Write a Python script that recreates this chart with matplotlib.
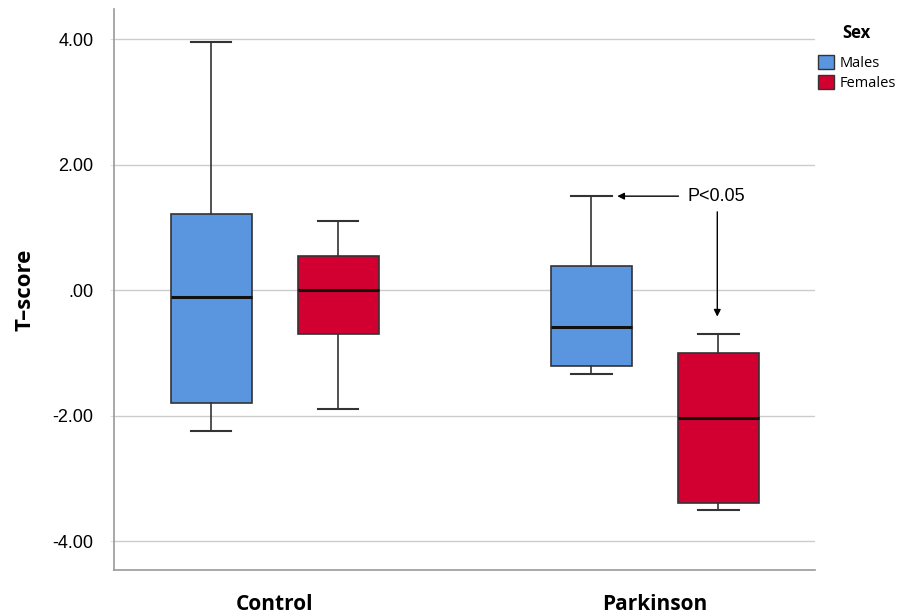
import matplotlib.pyplot as plt

groups = ['Control', 'Parkinson']
sexes = ['Males', 'Females']
colors = ['#5A96E0', '#D20030']

# five-number summaries per group, per sex: whislo, q1, med, q3, whishi
males_stats = [[-2.25, -1.80, -0.10, 1.21, 3.95],
               [-1.34, -1.21, -0.59, 0.38, 1.50]]
females_stats = [[-1.90, -0.70, 0.00, 0.54, 1.10],
                 [-3.51, -3.39, -2.04, -1.00, -0.69]]

yticks = [-4, -2, 0, 2, 4]
ytick_labels = ['-4.00', '-2.00', '.00', '2.00', '4.00']

fig = plt.figure(figsize=(9.06, 6.13), dpi=100)
ax = fig.add_axes([0.126, 0.070, 0.774, 0.915])

offset = 0.167
width = 0.213
for s, (stats_list, color) in enumerate(zip([males_stats, females_stats], colors)):
    stats = []
    for lo, q1, med, q3, hi in stats_list:
        stats.append(dict(whislo=lo, q1=q1, med=med, q3=q3, whishi=hi, fliers=[]))
    pos = [g + (offset if s else -offset) for g in range(len(groups))]
    ax.bxp(stats, positions=pos, widths=width, patch_artist=True, showfliers=False,
           boxprops=dict(facecolor=color, edgecolor='#333333', linewidth=1.2),
           medianprops=dict(color='#111111', linewidth=2.2),
           whiskerprops=dict(color='#333333', linewidth=1.2),
           capprops=dict(color='#333333', linewidth=1.5),
           capwidths=width * 0.5, zorder=3)

ax.set_xlim(-0.422, 1.422)
ax.set_ylim(-4.46, 4.48)
ax.set_yticks(yticks)
ax.set_yticklabels(ytick_labels, fontsize=13, family='Liberation Sans')
ax.set_xticks(range(len(groups)))
ax.set_xticklabels(groups, fontsize=15, fontweight='bold', family='Open Sans')
ax.tick_params(axis='x', length=0, pad=17)
ax.tick_params(axis='y', length=3, color='#dddddd', pad=12)
ax.yaxis.grid(True, color='#cccccc', linewidth=1)
ax.set_axisbelow(True)
for side in ['top', 'right']:
    ax.spines[side].set_visible(False)
for side in ['left', 'bottom']:
    ax.spines[side].set_color('#999999')
    ax.spines[side].set_linewidth(1.2)
ax.set_ylabel('T\u2013score', fontsize=16, fontweight='bold', family='Open Sans', labelpad=12)

# significance annotation
ax.text(1.162, 1.50, 'P<0.05', fontsize=13, family='Liberation Sans', ha='center', va='center')
ax.annotate('', xy=(0.901, 1.50), xytext=(1.062, 1.50),
            arrowprops=dict(arrowstyle='-|>', color='black', lw=1, mutation_scale=10,
                            shrinkA=0, shrinkB=0))
ax.annotate('', xy=(1.164, -0.42), xytext=(1.164, 1.25),
            arrowprops=dict(arrowstyle='-|>', color='black', lw=1, mutation_scale=10,
                            shrinkA=0, shrinkB=0))

handles = [plt.Rectangle((0, 0), 1, 1, facecolor=c, edgecolor='#333333', linewidth=1) for c in colors]
leg = fig.legend(handles, sexes, loc='upper left', bbox_to_anchor=(0.888, 0.983), frameon=False,
                 title='Sex', prop=dict(family='Open Sans', size=10.5),
                 handlelength=1.1, handleheight=1.1, handletextpad=0.4, labelspacing=0.25)
leg.get_title().set_fontweight('bold')
leg.get_title().set_fontsize(12)
leg.get_title().set_family('Open Sans')
leg._legend_box.sep = 10

fig.savefig('out.png', dpi=100)
